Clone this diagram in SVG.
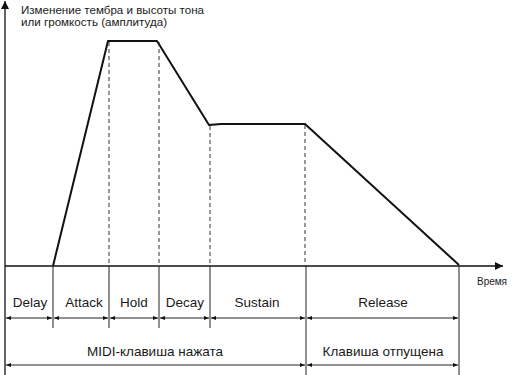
<svg xmlns="http://www.w3.org/2000/svg" width="512" height="375" viewBox="0 0 512 375">
<style>
text{font-family:"Liberation Sans",Arial,sans-serif;fill:#1a1a1a}
.lab{font-size:13.5px;text-anchor:middle}
.ttl{font-size:10.5px}
.ax{stroke:#111;stroke-width:1.3;fill:none}
.env{stroke:#111;stroke-width:2;fill:none;stroke-linejoin:round}
.dash{stroke:#333;stroke-width:1;stroke-dasharray:4,3;fill:none}
.div{stroke:#222;stroke-width:1;fill:none}
.dim{stroke:#222;stroke-width:1;fill:none;marker-start:url(#ah);marker-end:url(#ah)}
</style>
<defs>
<marker id="ah" viewBox="0 0 10 10" refX="10" refY="5" markerWidth="7" markerHeight="5" orient="auto-start-reverse" markerUnits="userSpaceOnUse">
<path d="M0,1 L10,5 L0,9 Z" fill="#111"/>
</marker>
<marker id="axh" viewBox="0 0 10 10" refX="10" refY="5" markerWidth="12" markerHeight="8" orient="auto" markerUnits="userSpaceOnUse">
<path d="M0,0 L10,5 L0,10 Z" fill="#111"/>
</marker>
</defs>
<g id="axes">
<line class="ax" x1="5" y1="375" x2="5" y2="1" marker-end="url(#axh)"/>
<line class="ax" x1="5" y1="266" x2="503" y2="266" marker-end="url(#axh)"/>
<text class="ttl" x="21" y="14" textLength="183" lengthAdjust="spacingAndGlyphs">Изменение тембра и высоты тона</text>
<text class="ttl" x="21" y="26" textLength="146" lengthAdjust="spacingAndGlyphs">или громкость (амплитуда)</text>
<text x="477" y="285" style="font-size:11px" textLength="30" lengthAdjust="spacingAndGlyphs">Время</text>
</g>
<g id="envelope">
<polyline class="env" points="53,266 108,41 157,41 209,125 221,124 305,124 459,265"/>
</g>
<g id="connectors">
<line class="dash" x1="109" y1="42" x2="109" y2="266"/>
<line class="dash" x1="159" y1="42" x2="159" y2="266"/>
<line class="dash" x1="210" y1="126" x2="210" y2="266"/>
<line class="dash" x1="305" y1="125" x2="305" y2="266"/>
<line class="div" x1="53" y1="266" x2="53" y2="328"/>
<line class="div" x1="109" y1="266" x2="109" y2="328"/>
<line class="div" x1="159" y1="266" x2="159" y2="328"/>
<line class="div" x1="210" y1="266" x2="210" y2="328"/>
<line class="div" x1="306" y1="266" x2="306" y2="375"/>
<line class="div" x1="459" y1="266" x2="459" y2="375"/>
<line class="dim" x1="6" y1="318" x2="52" y2="318"/>
<line class="dim" x1="54" y1="318" x2="108" y2="318"/>
<line class="dim" x1="110" y1="318" x2="158" y2="318"/>
<line class="dim" x1="160" y1="318" x2="209" y2="318"/>
<line class="dim" x1="211" y1="318" x2="305" y2="318"/>
<line class="dim" x1="307" y1="318" x2="458" y2="318"/>
<line class="dim" x1="6" y1="365" x2="305" y2="365"/>
<line class="dim" x1="307" y1="365" x2="458" y2="365"/>
</g>
<g id="delay"><text class="lab" x="30" y="307">Delay</text></g>
<g id="attack"><text class="lab" x="84" y="307">Attack</text></g>
<g id="hold"><text class="lab" x="134" y="307">Hold</text></g>
<g id="decay"><text class="lab" x="185" y="307">Decay</text></g>
<g id="sustain"><text class="lab" x="257" y="307">Sustain</text></g>
<g id="release"><text class="lab" x="383" y="307">Release</text></g>
<g id="pressed"><text class="lab" x="155" y="356">MIDI-клавиша нажата</text></g>
<g id="released"><text class="lab" x="383" y="356">Клавиша отпущена</text></g>
</svg>
